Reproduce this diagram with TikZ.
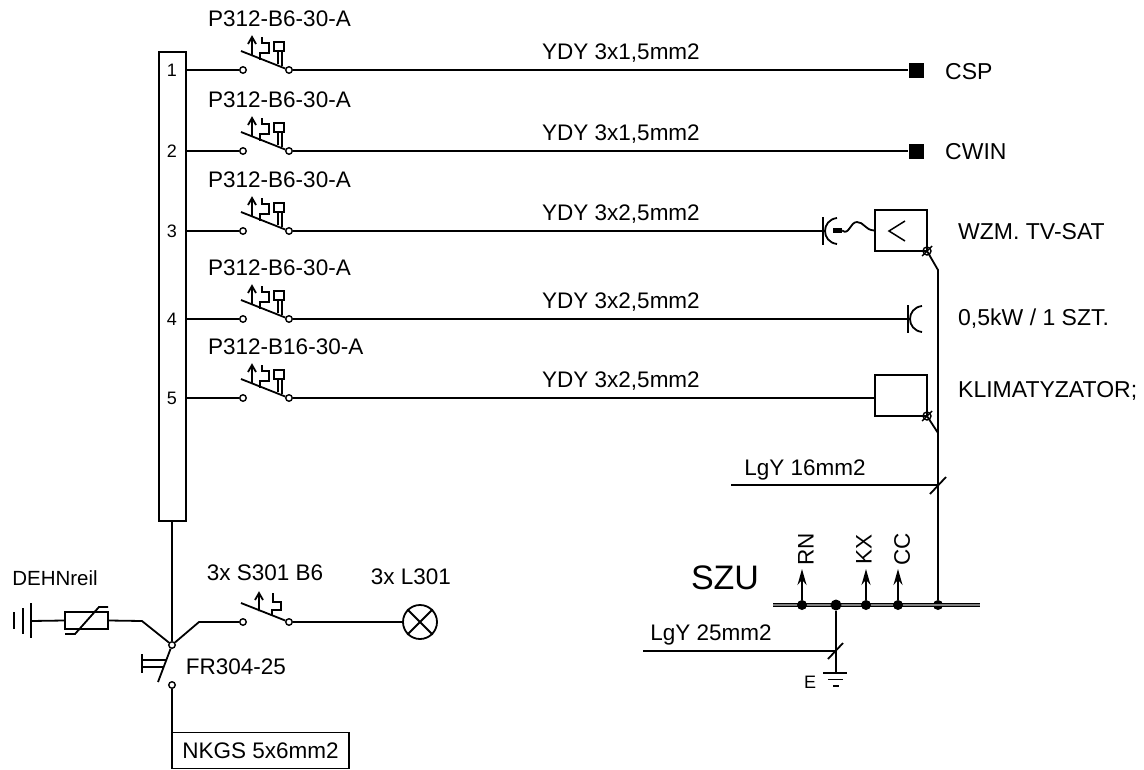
\documentclass[tikz,border=0pt]{standalone}
\usepackage{fontspec}
\setmainfont{Liberation Sans}
\usetikzlibrary{arrows.meta}
\tikzset{>={Stealth[length=16pt,width=9pt]},
  wire/.style={line width=1.8pt},
  lbl/.style={inner sep=0pt,font=\fontsize{22.5}{24}\selectfont},
  contact/.style={circle,draw,fill=white,line width=1.4pt,inner sep=0pt,minimum size=6.5pt},
  dot/.style={circle,fill,inner sep=0pt,minimum size=10pt},
  loadbox/.style={draw,line width=1.8pt,minimum width=52pt,minimum height=41pt,inner sep=0pt},
  pics/cbreaker/.style={code={
      \node[contact] (-in) at (0,0) {};
      \node[contact] (-out) at (46,0) {};
      \draw[wire] (-2,-19) -- (-out);
    }},
  pics/cbtrip/.style={code={
      \draw[wire] (9,-15) -- (9,-32) (5,-26) -- (9,-33) -- (13,-26);
      \draw[wire] (17,-10) -- (17,-17) -- (26,-17) -- (26,-27) -- (19,-27) -- (19,-33);
      \draw[wire] (31,-28) rectangle (41,-19);
      \draw[line width=1.2pt] (35,-19) -- (35,-6) (39,-19) -- (39,-4);
    }},
  pics/socket/.style={code={
      \draw[wire] (0,-14) -- (0,14);
      \draw[wire] (14,-13) .. controls (-2,-11) and (-2,11) .. (14,13);
    }},
  pics/pe/.style={code={
      \draw[line width=1.4pt] (0,0) circle (4);
      \draw[line width=1.4pt] (-5,5) -- (5,-5);
    }}
}

\begin{document}
\begin{tikzpicture}[x=1pt,y=-1pt]
  \useasboundingbox (0,0) rectangle (1144,769);
  % rail
  \node[draw,line width=1.8pt,minimum width=27pt,minimum height=469pt,inner sep=0pt] (rail) at (172.5,286.5) {};
  % loads
  \node[fill,minimum size=15pt,inner sep=0pt] (load1) at (916,70) {};
  \node[fill,minimum size=15pt,inner sep=0pt] (load2) at (916,151) {};
  \pic at (823,231) {socket};
  \coordinate (sock3) at (823,231);
  \pic at (908,319) {socket};
  \coordinate (sock4) at (908,319);
  \node[loadbox] (amp) at (901,230.5) {};
  \node[loadbox] (load5) at (901,395.5) {};
  \draw[line width=1.5pt] (905,221) -- (889,231) -- (905,241);
  \node[fill,minimum width=9pt,minimum height=5pt,inner sep=0pt] (plug) at (837.5,230.5) {};
  \draw[wire] (plug.east) .. controls (849,236) and (850,222) .. (857,222) .. controls (864,222) and (865,230) .. (amp.west);
  % feeders
  \foreach \n/\y/\typ/\cab/\e/\lx/\load/\ly in {
      1/70/P312-B6-30-A/{YDY 3x1,5mm2}/load1/945/CSP/72,
      2/151/P312-B6-30-A/{YDY 3x1,5mm2}/load2/945/CWIN/152,
      3/231/P312-B6-30-A/{YDY 3x2,5mm2}/sock3/958/{WZM. TV-SAT}/232,
      4/319/P312-B6-30-A/{YDY 3x2,5mm2}/sock4/958/{0,5kW / 1 SZT.}/319,
      5/398/P312-B16-30-A/{YDY 3x2,5mm2}/load5/958/KLIMATYZATOR;/391} {
    \pic (q\n) at (243,\y) {cbreaker};
    \pic at (243,\y) {cbtrip};
    \node[inner sep=0pt,font=\fontsize{18}{18}\selectfont] (no\n) at (172,\y) {\n};
    \node[lbl,anchor=west] (typ\n) at (208,\y-51) {\typ};
    \node[lbl] (cab\n) at (621,\y-17) {\cab};
    \node[lbl,anchor=west,font=\fontsize{23}{24}\selectfont] (name\n) at (\lx,\ly) {\load};
    \draw[wire] (rail.east |- q\n-in) -- (q\n-in);
    \draw[wire] (q\n-out) -- (\e.west |- q\n-out);
  }
  % protective conductor
  \pic at (927,251) {pe};
  \pic at (927,416) {pe};
  \coordinate (pe1) at (927,251);
  \coordinate (pe2) at (927,416);
  \coordinate (top) at (938,270);
  \coordinate (mid) at (938,433);
  \node[dot] (bus5) at (938,605) {};
  \draw[wire] (pe1) -- (top) -- (bus5);
  \draw[wire] (pe2) -- (mid);
  \coordinate (cab16) at (731,485);
  \coordinate (tick16) at (938,485);
  \draw[wire] (cab16) -- (tick16);
  \draw[wire] (930,494) -- (946,477);
  \node[lbl] (lgy16) at (805,470) {LgY 16mm2};
  % bus
  \coordinate (busa) at (773,605);
  \coordinate (busb) at (980,605);
  \draw[line width=1.5pt,double=gray,double distance=1.2pt] (busa) -- (busb);
  \node[lbl,font=\fontsize{34}{36}\selectfont] (szu) at (725,578) {SZU};
  \foreach \n/\x/\sy/\txt in {1/802/806/RN,3/866/864/KX,4/898/902/CC} {
    \node[dot] (bus\n) at (\x,605) {};
    \coordinate (up\n) at (\x,569);
    \draw[->,wire] (bus\n) -- (up\n);
    \node[lbl,rotate=90] (s\n) at (\sy,549) {\txt};
  }
  \node[dot,minimum size=11pt] (bus2) at (836,605) {};
  \coordinate (gnd) at (836,673);
  \draw[wire] (bus2) -- (gnd);
  \draw[wire] (823,673) -- (847,673);
  \draw[wire] (828,679.5) -- (843,679.5);
  \draw[wire] (833,686) -- (839,686);
  \node[inner sep=0pt,font=\fontsize{18}{18}\selectfont] (earth) at (810,682) {E};
  \coordinate (cab25) at (643,651);
  \coordinate (tick25) at (836,651);
  \draw[wire] (cab25) -- (tick25);
  \draw[wire] (828,659) -- (843,643);
  \node[lbl] (lgy25) at (711,635) {LgY 25mm2};
  % incomer
  \node[contact] (frin) at (172,645) {};
  \node[contact] (frout) at (172,685) {};
  \draw[wire] (rail.south -| frin) -- (frin);
  \draw[wire] (frin) -- (158,682);
  \draw[wire] (142,654) -- (142,673);
  \draw[wire] (142,660) -- (166,660) (142,667) -- (163,667);
  \node[lbl] (fr) at (236,667) {FR304-25};
  \node[draw,line width=1.8pt,minimum width=177pt,minimum height=36pt,inner sep=0pt,lbl] (nkgs) at (260.5,750.5) {NKGS 5x6mm2};
  \draw[wire] (frout) -- (frout |- nkgs.north);
  % surge arrester
  \node[draw,line width=1.8pt,minimum width=43pt,minimum height=17pt,inner sep=0pt] (var) at (86.5,620.5) {};
  \coordinate (vknee) at (142,621);
  \coordinate (vgnd) at (31,621);
  \draw[wire] (var.east) -- (vknee) -- (frin);
  \draw[wire] (var.west) -- (vgnd);
  \draw[wire] (31,603) -- (31,638);
  \draw[wire] (23,608) -- (23,634);
  \draw[wire] (14,612) -- (14,629);
  \draw[wire] (65,634) -- (75,634) -- (99,607) -- (108,607);
  \node[lbl,font=\fontsize{20.5}{22}\selectfont] (dehn) at (55,578) {DEHNreil};
  % lighting
  \pic (q6) at (243,622) {cbreaker};
  \draw[wire] (259,611) -- (259,594) (255,600) -- (259,593) -- (263,600);
  \draw[wire] (272,615) -- (272,610) -- (281,610) -- (281,602) -- (273,602) -- (273,593);
  \coordinate (lknee) at (199,622);
  \draw[wire] (frin) -- (lknee) -- (q6-in);
  \node[draw,circle,line width=1.8pt,minimum size=34pt,inner sep=0pt] (lamp) at (420,622) {};
  \draw[wire] (lamp.north east) -- (lamp.south west) (lamp.north west) -- (lamp.south east);
  \draw[wire] (q6-out) -- (lamp);
  \node[lbl] (s301) at (265,573) {3x S301 B6};
  \node[lbl] (l301) at (411,577) {3x L301};
\end{tikzpicture}
\end{document}
